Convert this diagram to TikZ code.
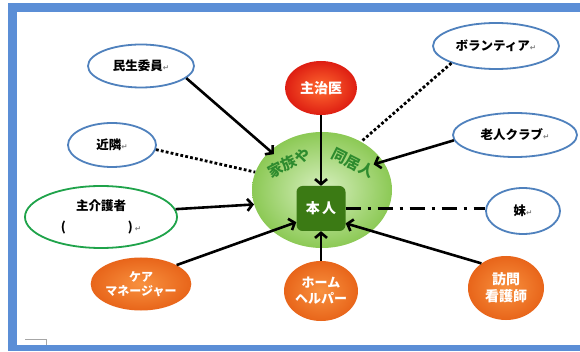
\documentclass[tikz,border=0pt]{standalone}
\usepackage{fontspec}
\setmainfont{Noto Sans CJK JP}
\newfontfamily\symf{DejaVu Sans}
\usetikzlibrary{shapes.geometric,arrows.meta}
\definecolor{frameblue}{HTML}{5B8ED6}
\definecolor{lineblue}{HTML}{4F81BD}
\definecolor{ringgreen}{HTML}{1FA34A}
\definecolor{greenIn}{HTML}{D8F0C0}
\definecolor{greenOut}{HTML}{8CC955}
\definecolor{greenText}{HTML}{2E8B2E}
\definecolor{boxgreen}{HTML}{3B7A14}
\definecolor{orangeIn}{HTML}{F8913F}
\definecolor{orangeOut}{HTML}{E8651A}
\definecolor{redIn}{HTML}{FF6A30}
\definecolor{redOut}{HTML}{DE1E12}
\newcommand{\rmark}{{\symf\fontsize{7.5}{7.5}\selectfont\color{gray}↵}}
\begin{document}
\begin{tikzpicture}[x=1pt,y=-1pt,
  blueell/.style={ellipse, draw=lineblue, line width=1.8pt, fill=white, inner sep=0pt,
    font=\bfseries\fontsize{12.5}{14}\selectfont},
  ball/.style={ellipse, inner sep=0pt, inner color=orangeIn, outer color=orangeOut,
    text=white, align=center, font=\bfseries\fontsize{12}{14.5}\selectfont},
  arr/.style={line width=2.6pt, -{Straight Barb[length=5pt,width=12pt]}},
  dotline/.style={line width=2.8pt, dash pattern=on 2.8pt off 2.2pt},
  dashdotline/.style={line width=3pt, dash pattern=on 15pt off 7pt on 3pt off 7pt}
]
\useasboundingbox (0,0) rectangle (580,352);
\fill[white] (0,0) rectangle (580,352);
% frame
\fill[frameblue] (8,3) rectangle (580,12);
\fill[frameblue] (8,3) rectangle (17,351);
\fill[frameblue] (8,345) rectangle (580,351);
\draw[gray!70, line width=0.6pt] (25,339) -- (46,339) -- (46,345);

% central family ellipse
\node[ellipse, minimum width=140pt, minimum height=116pt, inner sep=0pt,
  inner color=greenIn, outer color=greenOut] (kazoku) at (322,190) {};
\node[rotate=27, text=greenText, font=\bfseries\fontsize{15}{15}\selectfont] (kazokuya) at (289,163) {家族や};
\node[rotate=-27, text=greenText, font=\bfseries\fontsize{15}{15}\selectfont] (doukyo) at (353,163) {同居人};
\node[rounded corners=6pt, fill=boxgreen, minimum width=49pt, minimum height=45pt, inner sep=0pt,
  text=white, font=\bfseries\fontsize{14}{14}\selectfont] (honnin) at (321,208.5) {本\,人};

% outer ellipses
\node[blueell, minimum width=106pt, minimum height=43pt] (minsei) at (141,66) {民生委員\rmark};
\node[blueell, minimum width=88pt, minimum height=44pt] (kinrin) at (112,145) {近隣\rmark};
\node[blueell, minimum width=126pt, minimum height=46pt] (volunteer) at (496,46) {ボランティア\rmark};
\node[blueell, minimum width=124pt, minimum height=44pt] (roujin) at (515,135) {老人クラブ\rmark};
\node[blueell, minimum width=74pt, minimum height=46pt] (imouto) at (523,211) {妹\rmark};
\node[ellipse, draw=ringgreen, line width=1.8pt, fill=white, inner sep=0pt,
  minimum width=152pt, minimum height=62pt, align=center,
  font=\bfseries\fontsize{12.5}{21}\selectfont] (kaigo) at (101,217)
  {主介護者\\(\hspace{62pt})\,\rmark};

% balls
\node[ellipse, inner sep=0pt, inner color=redIn, outer color=redOut, text=white,
  minimum width=72pt, minimum height=54pt, font=\bfseries\fontsize{14}{14}\selectfont] (shuji) at (321,88) {主治医};
\node[ball, minimum width=78pt, minimum height=53pt] (care) at (141,284) {ケア\\マネージャー};
\node[ball, minimum width=74pt, minimum height=60pt, font=\bfseries\fontsize{13}{16}\selectfont] (helper) at (321,291) {ホーム\\ヘルパー};
\node[ball, minimum width=76pt, minimum height=64pt, font=\bfseries\fontsize{14}{17}\selectfont] (nurse) at (506,288) {訪問\\看護師};

% connectors
\draw[arr, shorten >=-5pt] (minsei.-15) -- (kazoku.143);
\draw[dotline] (kinrin.-6) -- (kazoku.165);
\draw[arr] (shuji.south) -- (honnin.north);
\draw[dotline] (volunteer.201) -- (kazoku.51);
\draw[arr, shorten >=-10pt] (roujin.185) -- (kazoku.25);
\draw[arr] (kaigo.6) -- (kazoku.192);
\draw[dashdotline] (honnin.east) -- (honnin.east -| imouto.west);
\draw[arr] (care.28) -- (honnin.209);
\draw[arr] (helper.north) -- (honnin.south);
\draw[arr] (nurse.135) -- (honnin.-31);
\end{tikzpicture}
\end{document}
